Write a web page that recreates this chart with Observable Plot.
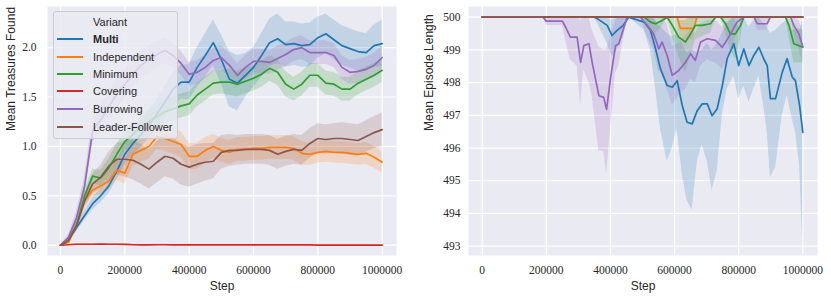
<!DOCTYPE html>
<html><head><meta charset="utf-8">
<script src="https://cdn.jsdelivr.net/npm/d3@7"></script>
<script src="https://cdn.jsdelivr.net/npm/@observablehq/plot@0.6"></script>
<style>
body{margin:0;background:#fff;}
#wrap{position:relative;width:831px;height:298px;overflow:hidden;}
#left,#right{position:absolute;top:0;}
#left{left:0}
#right{left:415px}
#wrap svg g[aria-label$="tick label"] text, #wrap svg g[aria-label$="tick label"]{font-family:"Liberation Serif","Times New Roman",serif !important;font-size:11.5px !important;}
#legend{position:absolute;left:53px;top:11px;width:125px;height:128px;background:rgba(234,234,242,0.8);border:1px solid #cccccc;border-radius:3px;box-sizing:border-box;font-family:"Liberation Sans",Arial,sans-serif;font-size:11px;color:#262626}
#legend .row{position:absolute;height:14px;line-height:14px;white-space:nowrap}
#legend .sw{position:absolute;left:3px;width:26px;height:2px}
</style>
</head>
<body>
<div id="wrap"><div id="left"></div><div id="right"></div><div id="legend"></div></div>
<script>
const variants = ["Multi","Independent","Minimum","Covering","Burrowing","Leader-Follower"];
const colors = ["#1f77b4","#ff7f0e","#2ca02c","#d62728","#9467bd","#8c564b"];
const legendTitle = "Variant";

const xTicks = [0,200000,400000,600000,800000,1000000];
const yTicksLeft = [0,0.5,1,1.5,2];
const yTicksRight = [493,494,495,496,497,498,499,500];

// ---- Left panel: Mean Treasures Found ----
const leftSteps = [0,25000,50000,75000,100000,125000,150000,175000,200000,225000,250000,275000,300000,325000,350000,375000,400000,425000,450000,475000,500000,525000,550000,575000,600000,625000,650000,675000,700000,725000,750000,775000,800000,825000,850000,875000,900000,925000,950000,975000,1000000];

const multiMean = [0,0.05,0.18,0.3,0.42,0.5,0.6,0.75,0.92,1.03,1.12,1.22,1.33,1.45,1.58,1.65,1.65,1.8,1.92,2.05,1.88,1.68,1.64,1.72,1.8,1.92,2.05,2.09,2.03,2.04,2.02,2.03,2.1,2.14,2.08,2.02,1.99,1.96,1.95,2.02,2.04];
const multiHw = [0,0.02,0.04,0.05,0.06,0.07,0.08,0.09,0.1,0.12,0.13,0.14,0.15,0.16,0.17,0.17,0.18,0.2,0.22,0.23,0.25,0.28,0.28,0.22,0.2,0.22,0.24,0.25,0.23,0.22,0.22,0.22,0.21,0.2,0.2,0.2,0.2,0.2,0.19,0.21,0.24];

const indepMean = [0,0.03,0.2,0.45,0.56,0.6,0.65,0.76,0.73,0.92,0.96,1.0,1.1,1.08,1.05,1.02,0.9,0.9,0.96,1.0,0.96,0.94,0.97,0.97,0.98,0.98,0.99,0.99,0.99,0.98,0.93,0.92,0.94,0.95,0.94,0.94,0.93,0.92,0.93,0.89,0.84];
const indepHw = [0,0.02,0.04,0.06,0.07,0.08,0.09,0.1,0.11,0.12,0.12,0.13,0.13,0.13,0.13,0.13,0.13,0.13,0.13,0.12,0.12,0.12,0.12,0.12,0.12,0.12,0.12,0.12,0.12,0.12,0.12,0.11,0.11,0.11,0.11,0.11,0.11,0.11,0.11,0.11,0.11];

const minMean = [0,0.05,0.2,0.5,0.7,0.68,0.78,0.92,1.05,1.12,1.2,1.25,1.3,1.35,1.38,1.41,1.43,1.52,1.58,1.64,1.65,1.65,1.63,1.66,1.69,1.73,1.79,1.75,1.63,1.58,1.63,1.72,1.72,1.64,1.63,1.58,1.58,1.64,1.68,1.72,1.77];
const minHw = [0,0.02,0.04,0.06,0.07,0.08,0.09,0.1,0.1,0.11,0.11,0.12,0.12,0.12,0.12,0.12,0.12,0.12,0.12,0.12,0.12,0.13,0.13,0.13,0.13,0.13,0.13,0.13,0.13,0.12,0.12,0.12,0.12,0.12,0.12,0.12,0.12,0.12,0.12,0.12,0.12];

const covMean = [0,0.005,0.01,0.01,0.01,0.012,0.01,0.01,0.008,0.005,0.004,0.004,0.005,0.005,0.004,0.004,0.005,0.004,0.004,0.004,0.003,0.003,0.003,0.003,0.003,0.003,0.003,0.004,0.004,0.003,0.003,0.003,0.002,0.002,0.002,0.002,0.002,0.002,0.002,0.002,0.002];
const covHw = [0,0.004,0.005,0.005,0.005,0.005,0.005,0.005,0.005,0.004,0.004,0.004,0.004,0.004,0.004,0.004,0.004,0.004,0.004,0.004,0.003,0.003,0.003,0.003,0.003,0.003,0.003,0.003,0.003,0.003,0.003,0.003,0.003,0.003,0.003,0.003,0.003,0.003,0.003,0.003,0.003];

const burMean = [0,0.08,0.28,0.6,1.16,1.27,1.4,1.53,1.63,1.73,1.82,1.88,1.93,1.97,1.92,1.84,1.73,1.75,1.8,1.87,1.9,1.82,1.72,1.8,1.86,1.86,1.85,1.89,1.93,1.98,2.0,1.95,1.95,1.95,1.92,1.8,1.75,1.76,1.78,1.82,1.9];
const burHw = [0,0.03,0.06,0.1,0.12,0.14,0.15,0.15,0.15,0.14,0.14,0.14,0.13,0.13,0.12,0.12,0.12,0.12,0.12,0.12,0.12,0.12,0.12,0.12,0.12,0.12,0.12,0.12,0.12,0.12,0.12,0.12,0.12,0.12,0.12,0.12,0.12,0.12,0.12,0.12,0.12];

const leadMean = [0,0.05,0.2,0.45,0.62,0.69,0.8,0.87,0.87,0.86,0.82,0.77,0.84,0.9,0.88,0.82,0.79,0.82,0.84,0.85,0.94,0.96,0.96,0.97,0.97,0.97,0.96,0.92,0.95,0.97,0.96,1.03,1.08,1.07,1.08,1.08,1.07,1.06,1.1,1.14,1.17];
const leadHw = [0,0.02,0.05,0.08,0.1,0.12,0.14,0.16,0.18,0.2,0.2,0.2,0.21,0.21,0.21,0.21,0.2,0.2,0.19,0.18,0.17,0.16,0.15,0.15,0.15,0.15,0.15,0.15,0.15,0.15,0.15,0.15,0.15,0.15,0.15,0.16,0.16,0.16,0.16,0.16,0.17];

const leftMeans = [multiMean, indepMean, minMean, covMean, burMean, leadMean];
const leftHws = [multiHw, indepHw, minHw, covHw, burHw, leadHw];

// ---- Right panel: Mean Episode Length ----
const rMultiStep = [0,350000,360000,375000,390000,405000,420000,440000,457000,505000,525000,541000,556000,577000,593000,608000,624000,639000,655000,671000,686000,702000,717000,733000,749000,764000,785000,800000,816000,832000,847000,863000,878000,889000,899000,915000,936000,951000,967000,977000,990000,1000000];
const rMultiMean = [500,500,499.95,499.85,499.75,499.44,499.59,499.75,500,499.85,499.59,499.03,498.42,497.91,497.86,498.06,497.30,496.79,496.74,497.15,497.35,497.35,496.99,497.20,497.91,498.73,499.19,498.52,499.03,498.52,498.83,499.08,498.73,498.52,497.51,497.51,498.32,498.73,498.17,498.06,497.3,496.48];
const rMultiLo = [500,500,499.8,499.5,499.2,498.8,499.0,499.4,500,499.6,499.0,497.8,496.6,495.6,496.0,496.6,495.2,494.4,494.1,495.6,496.1,495.6,494.7,495.3,497.0,497.8,498.2,497.5,497.9,497.4,497.8,498.2,497.3,496.5,495.1,495.4,497.0,497.6,496.9,496.5,495.5,493.0];
const rMultiHi = [500,500,500,500,500,499.9,500,500,500,500,500,499.9,499.7,499.5,499.4,499.5,499.2,498.9,499.0,498.9,499.0,499.2,499.0,499.2,499.5,499.8,500,499.7,500,499.7,499.9,500,499.8,499.7,499.5,499.6,499.8,499.9,499.6,499.6,499.6,499.9];

const rIndepStep = [0,608000,618000,660000,670000,1000000];
const rIndepMean = [500,500,499.66,499.66,500,500];
const rIndepLo = [500,500,499.3,499.3,500,500];
const rIndepHi = [500,500,500,500,500,500];

const rMinStep = [0,505000,525000,541000,561000,577000,593000,613000,634000,650000,665000,686000,712000,728000,744000,759000,774000,790000,806000,816000,946000,957000,972000,1000000];
const rMinMean = [500,500,499.85,499.8,499.9,500,499.75,499.39,499.24,499.49,499.75,499.75,499.8,500,500,499.8,499.49,499.49,499.75,500,500,499.75,499.19,499.08];
const rMinLo = [500,500,499.6,499.5,499.7,500,499.4,498.8,498.3,498.8,499.3,499.4,499.5,500,500,499.5,499.0,498.7,499.3,500,500,499.4,498.6,498.6];
const rMinHi = [500,500,500,500,500,500,500,499.9,499.9,500,500,500,500,500,500,500,500,500,500,500,500,500,499.7,499.6];

const rCovStep = [0,1000000];
const rCovMean = [500,500];
const rCovLo = [500,500];
const rCovHi = [500,500];

const rBurStep = [0,190000,200000,250000,260000,275000,296000,307000,317000,333000,343000,364000,379000,388000,400000,416000,426000,452000,494000,515000,535000,551000,561000,577000,593000,613000,634000,650000,665000,681000,702000,728000,749000,769000,795000,816000,848000,858000,889000,899000,962000,972000,988000,1000000];
const rBurMean = [500,500,499.88,499.88,499.7,499.39,499.39,498.62,499.13,499.19,498.62,497.6,497.55,497.18,498.12,499.13,499.19,500,500,499.75,499.49,499.03,499.24,498.83,498.22,498.37,498.62,498.88,498.68,499.24,499.34,499.29,499.08,499.39,499.85,500,500,499.8,499.8,500,500,499.75,499.49,499.1];
const rBurLo = [500,500,499.75,499.75,499.3,498.7,498.5,497.3,498.4,498.0,497.6,495.9,495.9,495.2,496.5,498.3,498.5,500,500,499.4,499.0,498.3,498.4,497.8,497.3,497.6,497.8,498.1,498.0,498.5,498.7,498.6,498.4,498.8,499.5,500,500,499.6,499.6,500,500,499.5,499.0,498.6];
const rBurHi = [500,500,500,500,500,500,500,499.9,500,500,499.6,499.1,499.0,499.0,499.4,499.9,500,500,500,500,500,499.7,500,499.8,499.1,499.2,499.4,499.6,499.5,499.8,499.9,499.9,499.7,499.9,500,500,500,500,500,500,500,500,499.9,499.6];

const rLeadStep = [0,1000000];
const rLeadMean = [500,500];
const rLeadLo = [500,500];
const rLeadHi = [500,500];

const rightSeries = [
  [rMultiStep, rMultiMean, rMultiLo, rMultiHi],
  [rIndepStep, rIndepMean, rIndepLo, rIndepHi],
  [rMinStep, rMinMean, rMinLo, rMinHi],
  [rCovStep, rCovMean, rCovLo, rCovHi],
  [rBurStep, rBurMean, rBurLo, rBurHi],
  [rLeadStep, rLeadMean, rLeadLo, rLeadHi]
];

// ---- build rows ----
const leftRows = [];
variants.forEach((v, i) => {
  leftSteps.forEach((s, j) => {
    const m = leftMeans[i][j], h = leftHws[i][j];
    leftRows.push({variant: v, step: s, mean: m, lo: m - h, hi: m + h});
  });
});
const rightRows = [];
variants.forEach((v, i) => {
  const [st, me, lo, hi] = rightSeries[i];
  st.forEach((s, j) => rightRows.push({variant: v, step: s, mean: me[j], lo: lo[j], hi: hi[j]}));
});

const txt = "#262626";
const sans = "Liberation Sans, Arial, sans-serif";
const serif = "Liberation Serif, Times New Roman, serif";
const fmtInt = d3.format("d");

function panel({rows, width, marginLeft, marginRight, xDomain, yDomain, yTicks, yFormat, yPad, yLabel, yLabelDx}) {
  return Plot.plot({
    width, height: 298,
    marginLeft, marginRight, marginTop: 6, marginBottom: 43,
    x: {domain: xDomain},
    y: {domain: yDomain},
    color: {domain: variants, range: colors},
    style: {fontFamily: serif, fontSize: "11.5px", color: txt, background: "transparent", overflow: "visible"},
    marks: [
      Plot.frame({fill: "#eaeaf2", stroke: null}),
      Plot.gridX({ticks: xTicks, stroke: "#ffffff", strokeOpacity: 1, strokeWidth: 1.2}),
      Plot.gridY({ticks: yTicks, stroke: "#ffffff", strokeOpacity: 1, strokeWidth: 1.2}),
      Plot.areaY(rows, {x: "step", y1: "lo", y2: "hi", z: "variant", fill: "variant", fillOpacity: 0.2}),
      Plot.lineY(rows, {x: "step", y: "mean", z: "variant", stroke: "variant", strokeWidth: 1.7}),
      Plot.axisX({ticks: xTicks, tickFormat: fmtInt, tickSize: 0, tickPadding: 10, label: null, fontFamily: serif, fontSize: 11.5}),
      Plot.axisY({ticks: yTicks, tickFormat: yFormat, tickSize: 0, tickPadding: yPad, label: null, fontFamily: serif, fontSize: 11.5}),
      Plot.text(["Step"], {text: d => d, frameAnchor: "bottom", dy: 31, lineAnchor: "middle", fontFamily: sans, fontSize: 12, fill: txt}),
      Plot.text([yLabel], {text: d => d, frameAnchor: "left", dx: yLabelDx, rotate: -90, lineAnchor: "middle", fontFamily: sans, fontSize: 12, fill: txt})
    ]
  });
}

document.getElementById("left").append(panel({
  rows: leftRows, width: 415, marginLeft: 47, marginRight: 19,
  xDomain: [-40410, 1044451], yDomain: [-0.104, 2.416],
  yTicks: yTicksLeft, yFormat: d3.format(".1f"), yPad: 11,
  yLabel: "Mean Treasures Found", yLabelDx: -36
}));
document.getElementById("right").append(panel({
  rows: rightRows, width: 416, marginLeft: 53, marginRight: 14,
  xDomain: [-42732, 1045851], yDomain: [492.715, 500.327],
  yTicks: yTicksRight, yFormat: fmtInt, yPad: 8,
  yLabel: "Mean Episode Length", yLabelDx: -39
}));

// ---- legend ----
const leg = document.getElementById("legend");
const rowCenters = [27, 44.7, 62, 79.3, 97, 114.7];
const title = document.createElement("div");
title.className = "row";
title.style.left = "39px"; title.style.top = (9.7 - 7) + "px";
title.textContent = legendTitle;
leg.append(title);
variants.forEach((v, i) => {
  const sw = document.createElement("div");
  sw.className = "sw";
  sw.style.top = (rowCenters[i] - 1) + "px";
  sw.style.background = colors[i];
  leg.append(sw);
  const t = document.createElement("div");
  t.className = "row";
  t.style.left = "39px";
  t.style.top = (rowCenters[i] - 7) + "px";
  t.textContent = v;
  if (v === "Multi") t.style.fontWeight = "bold";
  leg.append(t);
});
</script>
</body></html>
